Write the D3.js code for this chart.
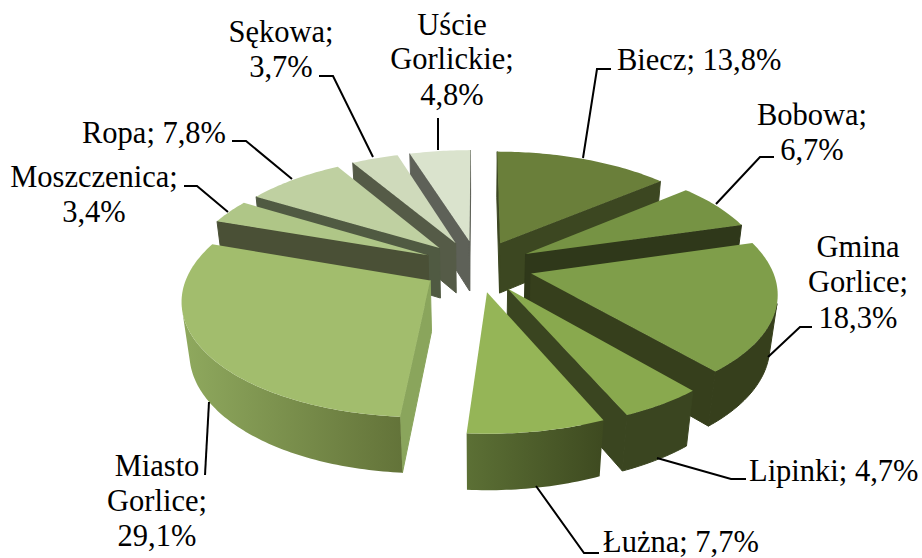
<!DOCTYPE html>
<html><head><meta charset="utf-8">
<script src="https://cdnjs.cloudflare.com/ajax/libs/d3/7.8.5/d3.min.js"></script>
<style>html,body{margin:0;padding:0;background:#fff}svg{display:block}</style>
</head><body><svg id="c" width="922" height="558"></svg>
<script>
const categories=["Biecz","Bobowa","Gmina Gorlice","Lipinki","Łużna","Miasto Gorlice","Moszczenica","Ropa","Sękowa","Ujście Gorlickie"];
const shares=[13.8,6.7,18.3,4.7,7.7,29.1,3.4,7.8,3.7,4.8];
const topColors=["#6a7f3a","#769344","#7f9e4a","#89a94e","#95b557","#a2bd6d","#afc687","#bfd0a1","#cfdabb","#dae3cd"];
const wallColors=["#3c4721","#2f381a","#363f1c","#3a4520","#3f4c22","#8aa55c","#4a5036","#505a42","#555b47","#5e6158"];
const outerFrom=["#3c4721","#2f381a","#363f1c","#3a4520","#5c7035","#8fa95e","#4a5036","#505a42","#555b47","#5e6158"];
const outerTo=["#3c4721","#2f381a","#363f1c","#3a4520","#3e4a20","#637339","#4a5036","#505a42","#555b47","#5e6158"];
const labelLines=[
 {a:"start",x:617,lines:[["Biecz; 13,8%",70]]},
 {a:"middle",x:812,lines:[["Bobowa;",125],["6,7%",160]]},
 {a:"middle",x:858,lines:[["Gmina",257],["Gorlice;",292],["18,3%",328]]},
 {a:"start",x:749,lines:[["Lipinki; 4,7%",481]]},
 {a:"start",x:603,lines:[["Łużna; 7,7%",552]]},
 {a:"middle",x:157,lines:[["Miasto",476],["Gorlice;",511],["29,1%",546]]},
 {a:"middle",x:94,lines:[["Moszczenica;",187],["3,4%",222]]},
 {a:"start",x:82,lines:[["Ropa; 7,8%",143]]},
 {a:"middle",x:281,lines:[["Sękowa;",42],["3,7%",77]]},
 {a:"middle",x:452,lines:[["Uście",35],["Gorlickie;",69],["4,8%",105]]}
];
const leaders=[
 [[583,158],[597,69],[611,69]],
 [[716,204],[760,157],[774,157]],
 [[768,357],[800,327],[812,327]],
 [[657,458],[731,479],[746,479]],
 [[536,486],[584,553],[599,553]],
 [[209,402],[205,475]],
 [[228,212],[197,186],[184,186]],
 [[292,179],[246,141],[232,141]],
 [[373,157],[333,76],[319,76]],
 [[438,150],[438,118]]
];
const cx=477.5,cy=266,A=240,B=111.6,K=0.149,EXPL=0.231,DEPTH=52,KZ=0.026;
const toRad=Math.PI/180;
const svg=d3.select("#c"),defs=svg.append("defs");
function project(u,v,z){const w=1+K*v+KZ*z;return [cx+A*u/w,cy+(-B*v+DEPTH*z)/w];}
const arcs=d3.pie().sort(null).value(d=>d)(shares);
const line=d3.line();
function area(p){return d3.polygonArea(p);}
const order=arcs.map((a,i)=>{const m=(a.startAngle+a.endAngle)/2;return {a,i,m,ox:EXPL*Math.sin(m),oy:EXPL*Math.cos(m)};})
 .sort((p,q)=>q.oy-p.oy);
order.forEach(s=>{
 const {a,i,ox,oy}=s;
 const pt=(t,r,z)=>project(ox+r*Math.sin(t),oy+r*Math.cos(t),z);
 const n=Math.max(4,Math.ceil((a.endAngle-a.startAngle)/toRad));
 const ts=d3.range(n+1).map(k=>a.startAngle+(a.endAngle-a.startAngle)*k/n);
 const g=svg.append("g");
 [[a.startAngle,false],[a.endAngle,true]].forEach(([t,isEnd])=>{
  const q=isEnd?[pt(t,1,0),pt(0,0,0),pt(0,0,1),pt(t,1,1)]:[pt(0,0,0),pt(t,1,0),pt(t,1,1),pt(0,0,1)];
  if(area(q)>0)g.append("path").attr("d",line(q)+"Z").attr("fill",wallColors[i]).attr("stroke",wallColors[i]).attr("stroke-width",1);
 });
 const vis=ts.slice(0,-1).map((t,k)=>{const q=[pt(t,1,0),pt(ts[k+1],1,0),pt(ts[k+1],1,1),pt(t,1,1)];return area(q)>0?k:-1;}).filter(k=>k>=0);
 if(vis.length){
  const r=ts.slice(vis[0],vis[vis.length-1]+2);
  const poly=r.map(t=>pt(t,1,0)).concat(r.slice().reverse().map(t=>pt(t,1,1)));
  const xs=d3.extent(poly,p=>p[0]);
  const id="g"+i;
  const gr=defs.append("linearGradient").attr("id",id).attr("gradientUnits","userSpaceOnUse")
   .attr("x1",xs[0]).attr("x2",xs[1]).attr("y1",0).attr("y2",0);
  gr.append("stop").attr("offset",0).attr("stop-color",outerFrom[i]);
  gr.append("stop").attr("offset",1).attr("stop-color",outerTo[i]);
  g.append("path").attr("d",line(poly)+"Z").attr("fill",`url(#${id})`).attr("stroke",outerTo[i]===outerFrom[i]?outerTo[i]:"none").attr("stroke-width",1);
 }
 const top=[pt(0,0,0)].concat(ts.map(t=>pt(t,1,0)));
 g.append("path").attr("d",line(top)+"Z").attr("fill",topColors[i]);
});
leaders.forEach(p=>svg.append("path").attr("d",line(p)).attr("fill","none").attr("stroke","#000").attr("stroke-width",2));
labelLines.forEach(l=>l.lines.forEach(([t,y])=>{
 svg.append("text").attr("x",l.x).attr("y",y).attr("text-anchor",l.a)
  .attr("font-family","'Liberation Serif',serif").attr("font-size",30.5).attr("fill","#000").text(t);
}));
</script></body></html>
